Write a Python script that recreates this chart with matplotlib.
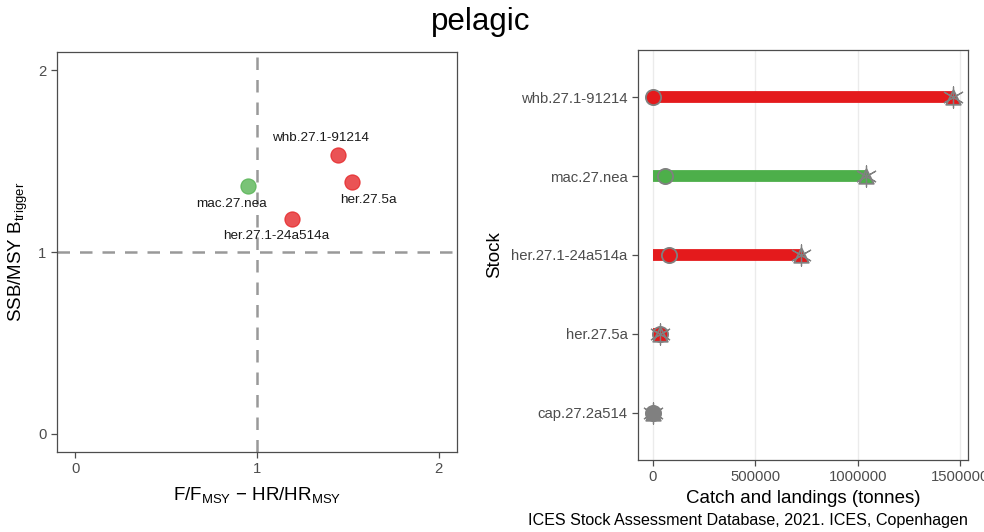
import matplotlib
matplotlib.use("Agg")
import matplotlib.pyplot as plt
import numpy as np

plt.rcParams['font.family'] = ['Liberation Sans', 'DejaVu Sans']
plt.rcParams['mathtext.fontset'] = 'custom'
plt.rcParams['mathtext.rm'] = 'Liberation Sans'
plt.rcParams['mathtext.it'] = 'Liberation Sans'

RED = '#E41A1C'
GREEN = '#4DAF4A'
GREY = '#808080'

# Left panel: Kobe-style scatter
kobe_stocks = ['whb.27.1-91214', 'her.27.5a', 'mac.27.nea', 'her.27.1-24a514a']
kobe_f = [1.444, 1.521, 0.953, 1.195]
kobe_ssb = [1.534, 1.383, 1.362, 1.184]
kobe_status = ['red', 'red', 'green', 'red']
label_x = [1.348, 1.614, 0.862, 1.104]
label_y = [1.627, 1.286, 1.262, 1.089]

# Right panel: catches
stocks = ['cap.27.2a514', 'her.27.5a', 'her.27.1-24a514a', 'mac.27.nea', 'whb.27.1-91214']
catches = [0, 35500, 724000, 1040000, 1462000]
discards = [0, 35500, 79000, 60000, 0]
status = ['grey', 'red', 'red', 'green', 'red']
x_ticks = [0, 500000, 1000000, 1500000]
x_ticklabels = ['0', '500000', '1000000', '1500000']

cmap = {'red': RED, 'green': GREEN, 'grey': GREY}

fig = plt.figure(figsize=(9.84, 5.32), dpi=100)
W, H = 984, 532

def ax_at(x0, y0, x1, y1):
    return fig.add_axes([x0 / W, 1 - y1 / H, (x1 - x0) / W, (y1 - y0) / H])

ax1 = ax_at(57, 52, 457, 452)
ax2 = ax_at(638, 50, 968, 460)

for ax in (ax1, ax2):
    for s in ax.spines.values():
        s.set_color('#4d4d4d')
        s.set_linewidth(0.9)
    ax.tick_params(colors='#4d4d4d', labelcolor='#4d4d4d', labelsize=10.7, length=4, width=0.9)

# Left
ax1.axhline(1, color='#999999', ls=(0, (5, 4)), lw=1.8, zorder=1)
ax1.axvline(1, color='#999999', ls=(0, (5, 4)), lw=1.8, zorder=1)
for f, b, st in zip(kobe_f, kobe_ssb, kobe_status):
    ax1.scatter(f, b, s=120, color=cmap[st], alpha=0.75, edgecolors=cmap[st], linewidths=0.8, zorder=3)
for name, lx, ly in zip(kobe_stocks, label_x, label_y):
    ax1.text(lx, ly, name, ha='center', va='center', fontsize=9.7, color='#1a1a1a', zorder=4)
ax1.set_xlim(-0.1, 2.1)
ax1.set_ylim(-0.1, 2.1)
ax1.set_xticks([0, 1, 2])
ax1.set_yticks([0, 1, 2])
ax1.set_xlabel(r'F/F$_{\mathrm{MSY}}$ $-$ HR/HR$_{\mathrm{MSY}}$', fontsize=13.5, labelpad=6, color='black')
ax1.set_ylabel(r'SSB/MSY B$_{\mathrm{trigger}}$', fontsize=13.5, labelpad=6, color='black')

# Right
ypos = np.arange(len(stocks))
ax2.grid(axis='x', color='#ebebeb', lw=1.0, zorder=0)
ax2.set_axisbelow(True)
for y, c, d, st in zip(ypos, catches, discards, status):
    col = cmap[st]
    ax2.plot([0, c], [y, y], color=col, lw=8.5, solid_capstyle='butt', zorder=2)
    ax2.scatter(d, y, s=120, color=col, edgecolors=GREY, linewidths=1.3, zorder=3)
    ax2.scatter(c, y, s=110, marker='^', color=col, edgecolors=GREY, linewidths=1.3, zorder=4)
    ax2.scatter(c, y, s=230, marker=(6, 2, 0), color=GREY, linewidths=0.9, zorder=5)
ax2.set_yticks(ypos)
ax2.set_yticklabels(stocks)
ax2.set_ylim(-0.6, len(stocks) - 0.4)
ax2.set_xlim(-73200, 1537200)
ax2.set_xticks(x_ticks)
ax2.set_xticklabels(x_ticklabels)
ax2.set_xlabel('Catch and landings (tonnes)', fontsize=13.5, labelpad=4, color='black')
ax2.set_ylabel('Stock', fontsize=13.5, labelpad=6, color='black')

fig.text(481 / W, 1 - 22 / H, 'pelagic', ha='center', va='center', fontsize=22.5, color='black')
fig.text(968 / W, 1 - 520 / H, 'ICES Stock Assessment Database, 2021. ICES, Copenhagen',
         ha='right', va='center', fontsize=11.6, color='black')

fig.savefig('out.png', dpi=100)
